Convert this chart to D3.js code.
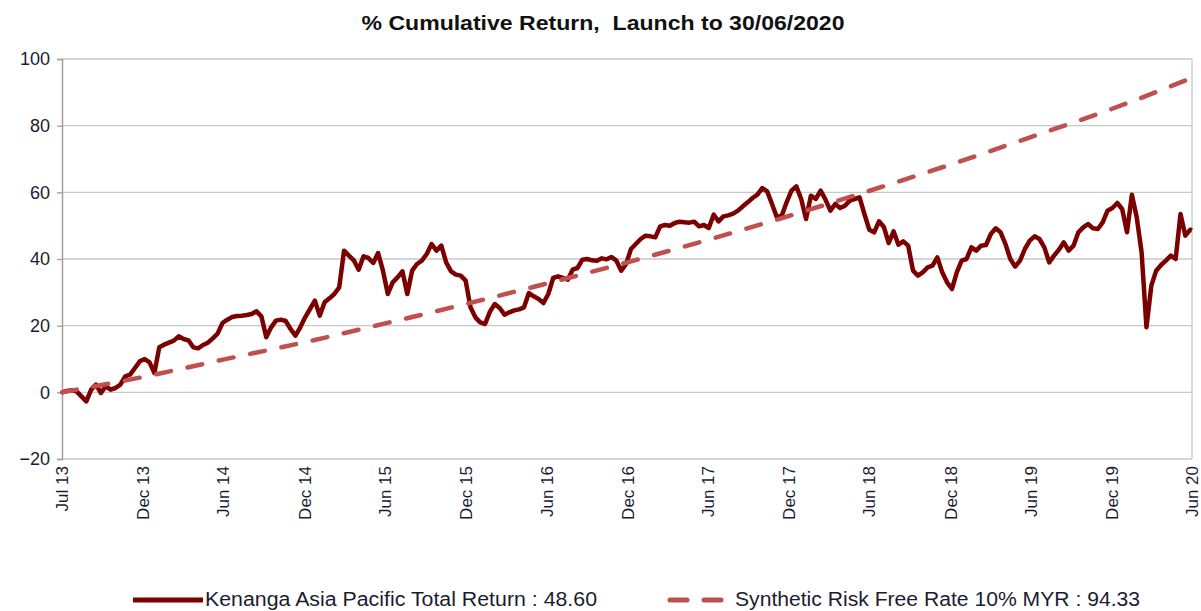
<!DOCTYPE html>
<html>
<head>
<meta charset="utf-8">
<script src="https://cdn.jsdelivr.net/npm/d3@7"></script>
<style>
    body { margin: 0; background: #fff; }
    svg text { font-family: "Liberation Sans", Arial, sans-serif; }
</style>
</head>
<body>
<svg id="chart" width="1201" height="611"></svg>
<script>
let width = 1201;
let height = 611;

// launch date and sampling step (days) of the fund series
let launchDate = "2013-07-01";
let endDate = "2020-06-30";
let stepDays = 11;

// % cumulative return, one reading every stepDays from launch
let fundValues = [
    0, 0.4, 0.6, 0.3, -1.2, -2.7, 0.8, 2.3, -0.2, 1.8,
    0.8, 1.3, 2.3, 4.8, 5.3, 7.3, 9.3, 10.0, 9.0, 5.8,
    13.5, 14.3, 14.9, 15.5, 16.8, 16.0, 15.6, 13.5, 13.2, 14.2,
    14.9, 16.2, 17.6, 20.8, 21.8, 22.6, 22.9, 23.0, 23.2, 23.5,
    24.3, 22.8, 16.5, 19.5, 21.5, 21.8, 21.4, 19.0, 17.0, 19.5,
    22.5, 25.0, 27.5, 23.0, 27.0, 28.2, 29.5, 31.5, 42.5, 41.0,
    39.6, 36.8, 40.8, 40.3, 38.8, 41.8, 36.5, 29.5, 33.0, 34.5,
    36.3, 29.5, 36.5, 38.5, 39.5, 41.5, 44.5, 42.5, 44.0, 39.0,
    36.3, 35.3, 35.0, 33.5, 25.5, 22.5, 21.0, 20.5, 24.2, 26.5,
    25.3, 23.3, 24.0, 24.6, 24.9, 25.5, 29.8, 28.8, 28.0, 26.8,
    29.5, 34.3, 34.8, 34.3, 33.8, 36.8, 37.3, 39.8, 40.0, 39.6,
    39.5, 40.2, 39.9, 40.6, 39.5, 36.5, 38.5, 43.0, 44.5, 46.0,
    47.0, 46.8, 46.5, 49.8, 50.2, 50.0, 50.8, 51.2, 51.0, 50.9,
    51.2, 49.8, 50.2, 49.3, 53.3, 51.3, 52.8, 53.1, 53.6, 54.5,
    55.8, 57.0, 58.3, 59.3, 61.3, 60.3, 56.5, 52.5, 53.0, 57.0,
    60.5, 61.8, 58.0, 52.0, 59.0, 58.0, 60.5, 57.8, 54.5, 56.5,
    55.3, 56.0, 57.5, 58.0, 58.5, 53.5, 48.8, 48.0, 51.3, 49.6,
    44.8, 48.3, 44.3, 45.3, 44.0, 36.5, 35.0, 36.0, 37.5, 38.0,
    40.5, 36.0, 33.0, 31.0, 36.0, 39.5, 40.0, 43.5, 42.5, 44.0,
    44.2, 47.5, 49.2, 48.0, 44.5, 40.0, 37.7, 39.5, 43.0, 45.5,
    46.8, 46.0, 43.5, 39.0, 41.0, 42.8, 45.0, 42.5, 44.0, 48.0,
    49.5, 50.5, 49.2, 49.0, 51.0, 54.5, 55.3, 56.8, 55.0, 48.0,
    59.3, 52.5, 42.0, 19.5, 32.0, 36.5, 38.2, 39.5, 41.0, 40.0,
    53.5, 47.0, 48.8
];
let fundLast = 48.60;

// synthetic risk free rate, read at the half-year points
let rfDates = [
    "2013-07-01", "2013-12-31", "2014-06-30", "2014-12-31", "2015-06-30",
    "2015-12-31", "2016-06-30", "2016-12-31", "2017-06-30", "2017-12-31",
    "2018-06-30", "2018-12-31", "2019-06-30", "2019-12-31", "2020-06-30"
];
let rfValues = [0, 4.6, 9.8, 15.0, 20.6, 26.5, 32.6, 39.0, 45.7, 52.9, 60.4, 68.3, 76.5, 85.0, 94.33];

let tickDates = [
    "2013-07-01", "2013-12-31", "2014-06-30", "2014-12-31", "2015-06-30",
    "2015-12-31", "2016-06-30", "2016-12-31", "2017-06-30", "2017-12-31",
    "2018-06-30", "2018-12-31", "2019-06-30", "2019-12-31", "2020-06-30"
];
let yTicks = [-20, 0, 20, 40, 60, 80, 100];

let title = "% Cumulative Return,  Launch to 30/06/2020";
let seriesNames = [
    "Kenanga Asia Pacific Total Return : 48.60",
    "Synthetic Risk Free Rate 10% MYR : 94.33"
];
let fundColor = "#7B0000";
let rfColor = "#C0504D";
let textColor = "#1c1c30";

let parse = d3.timeParse("%Y-%m-%d");
let fmt = d3.timeFormat("%b %y");

let margin = {left: 62, right: 9, top: 59, bottom: 152};
let svg = d3.select("#chart");

let x = d3.scaleTime()
    .domain([parse(launchDate), parse(endDate)])
    .range([margin.left, width - margin.right]);
let y = d3.scaleLinear()
    .domain([-20, 100])
    .range([height - margin.bottom, margin.top]);

let fund = fundValues.map((v, i) => ({date: d3.timeDay.offset(parse(launchDate), i * stepDays), value: v}));
fund.push({date: parse(endDate), value: fundLast});
let rf = rfDates.map((d, i) => ({date: parse(d), value: rfValues[i]}));

// title
svg.append("text")
    .attr("x", 603)
    .attr("y", 30)
    .attr("text-anchor", "middle")
    .attr("font-size", 20)
    .attr("font-weight", "bold")
    .attr("fill", "#111")
    .attr("textLength", 483)
    .attr("lengthAdjust", "spacingAndGlyphs")
    .attr("xml:space", "preserve")
    .text(title);

// grid
svg.append("g")
    .selectAll("line")
    .data(yTicks)
    .join("line")
    .attr("x1", margin.left)
    .attr("x2", width - margin.right)
    .attr("y1", d => y(d))
    .attr("y2", d => y(d))
    .attr("stroke", "#C8C8C8")
    .attr("stroke-width", 1.3);

// right border
svg.append("line")
    .attr("x1", width - margin.right).attr("x2", width - margin.right)
    .attr("y1", y(100)).attr("y2", y(-20))
    .attr("stroke", "#C8C8C8")
    .attr("stroke-width", 1.3);

// y axis
let yAxis = svg.append("g")
    .attr("transform", "translate(" + margin.left + ",0)")
    .call(d3.axisLeft(y).tickValues(yTicks).tickSize(5).tickPadding(7));
yAxis.select(".domain").attr("stroke", "#A0A0A0").attr("stroke-width", 1.5);
yAxis.selectAll(".tick line").attr("stroke", "#A0A0A0").attr("stroke-width", 1.3);
yAxis.selectAll("text")
    .attr("font-size", 18)
    .attr("fill", textColor)
    .style("font-family", "'Liberation Sans', Arial, sans-serif");

// x axis labels
let xAxis = svg.append("g")
    .attr("transform", "translate(0," + y(-20) + ")")
    .call(d3.axisBottom(x).tickValues(tickDates.map(parse)).tickFormat(fmt).tickSize(0));
xAxis.select(".domain").remove();
xAxis.selectAll("text")
    .attr("transform", "rotate(-90)")
    .attr("x", -7)
    .attr("y", 0)
    .attr("dy", "0.35em")
    .attr("text-anchor", "end")
    .attr("font-size", 17)
    .attr("fill", textColor)
    .style("font-family", "'Liberation Sans', Arial, sans-serif");

// series
let line = d3.line()
    .x(d => x(d.date))
    .y(d => y(d.value));

svg.append("path")
    .datum(fund)
    .attr("d", line)
    .attr("fill", "none")
    .attr("stroke", fundColor)
    .attr("stroke-width", 4.5)
    .attr("stroke-linejoin", "round");

svg.append("path")
    .datum(rf)
    .attr("d", line.curve(d3.curveMonotoneX))
    .attr("fill", "none")
    .attr("stroke", rfColor)
    .attr("stroke-width", 4.5)
    .attr("stroke-linecap", "round")
    .attr("stroke-dasharray", "15,17");

// legend
let legend = svg.append("g");
legend.append("line")
    .attr("x1", 133).attr("x2", 203)
    .attr("y1", 600).attr("y2", 600)
    .attr("stroke", fundColor)
    .attr("stroke-width", 5);
legend.append("text")
    .attr("x", 205).attr("y", 606)
    .attr("font-size", 20)
    .attr("fill", textColor)
    .attr("textLength", 392)
    .attr("lengthAdjust", "spacingAndGlyphs")
    .text(seriesNames[0]);
legend.append("line")
    .attr("x1", 670).attr("x2", 730)
    .attr("y1", 600).attr("y2", 600)
    .attr("stroke", rfColor)
    .attr("stroke-width", 5)
    .attr("stroke-linecap", "round")
    .attr("stroke-dasharray", "17,17");
legend.append("text")
    .attr("x", 735).attr("y", 606)
    .attr("font-size", 20)
    .attr("fill", textColor)
    .attr("textLength", 405)
    .attr("lengthAdjust", "spacingAndGlyphs")
    .text(seriesNames[1]);
</script>
</body>
</html>
